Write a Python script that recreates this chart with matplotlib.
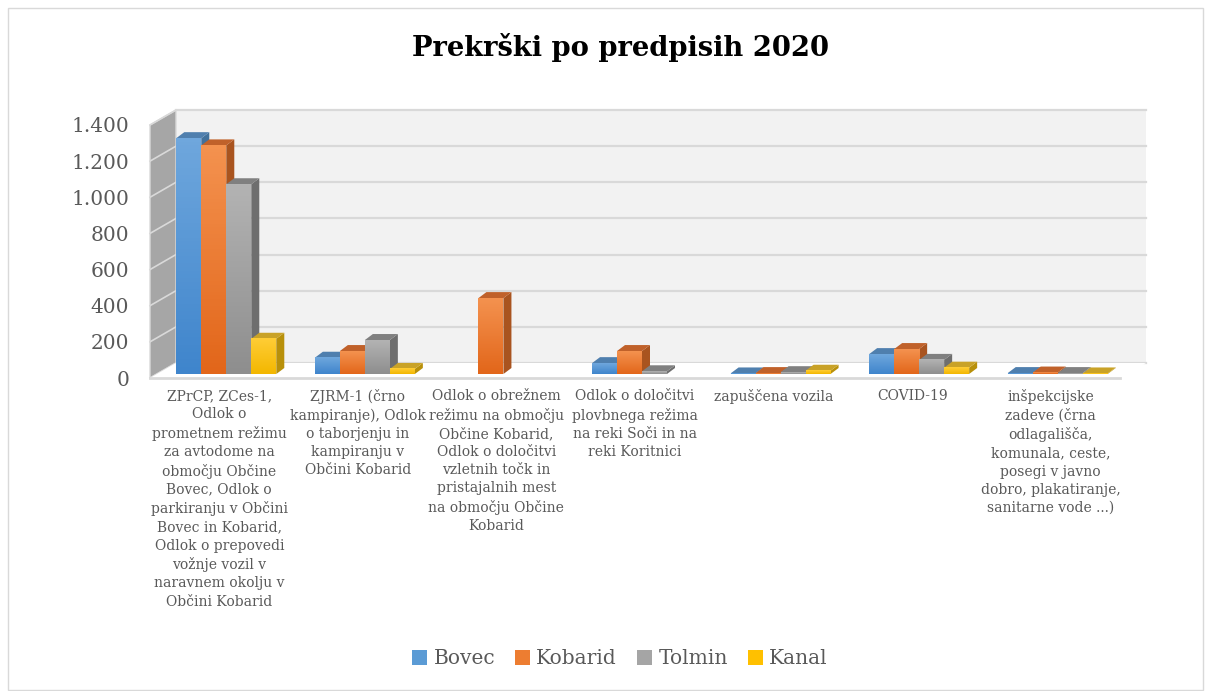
import matplotlib
matplotlib.use("Agg")
import matplotlib.pyplot as plt
import numpy as np
from matplotlib.patches import Polygon, Rectangle, Patch
from matplotlib.colors import LinearSegmentedColormap

categories = [
    "ZPrCP, ZCes-1,\nOdlok o\nprometnem režimu\nza avtodome na\nobmočju Občine\nBovec, Odlok o\nparkiranju v Občini\nBovec in Kobarid,\nOdlok o prepovedi\nvožnje vozil v\nnaravnem okolju v\nObčini Kobarid",
    "ZJRM-1 (črno\nkampiranje), Odlok\no taborjenju in\nkampiranju v\nObčini Kobarid",
    "Odlok o obrežnem\nrežimu na območju\nObčine Kobarid,\nOdlok o določitvi\nvzletnih točk in\npristajalnih mest\nna območju Občine\nKobarid",
    "Odlok o določitvi\nplovbnega režima\nna reki Soči in na\nreki Koritnici",
    "zapuščena vozila",
    "COVID-19",
    "inšpekcijske\nzadeve (črna\nodlagališča,\nkomunala, ceste,\nposegi v javno\ndobro, plakatiranje,\nsanitarne vode ...)",
]
series_names = ["Bovec", "Kobarid", "Tolmin", "Kanal"]
bovec = [1305, 90, 0, 60, 3, 110, 5]
kobarid = [1265, 127, 420, 127, 5, 138, 8]
tolmin = [1050, 188, 0, 15, 10, 78, 5]
kanal = [195, 28, 0, 0, 18, 35, 3]
values = [bovec, kobarid, tolmin, kanal]
yticks = [0, 200, 400, 600, 800, 1000, 1200, 1400]

front_top = ["#6fa7dd", "#f4924f", "#b3b3b3", "#ffcd36"]
front_bot = ["#3f85cc", "#e2661a", "#8e8e8e", "#f3b700"]
side_col = ["#41719c", "#a9541f", "#6e6e6e", "#b8900a"]
top_col = ["#4f7fae", "#c0612a", "#808080", "#c9a227"]

W, H = 1211, 691
fig = plt.figure(figsize=(W / 100, H / 100), dpi=100)
fig.patch.set_facecolor("white")
fig.add_artist(Rectangle((8 / W, 1 / H), 1195 / W, 682 / H, transform=fig.transFigure,
                         fill=False, edgecolor="#d9d9d9", lw=1.0))

ax = fig.add_axes([150 / W, 1 - 378 / H, 970 / W, 253 / H])
ax.set_xlim(-0.5, 6.5)
ax.set_ylim(0, 1400)
ax.set_autoscale_on(False)
for s in ax.spines.values():
    s.set_visible(False)
ax.patch.set_alpha(0)

ux = 7 / 970.0
uy = 1400 / 253.0
xmin, xmax = -0.5, 6.5

# back wall / side wall / floor
dxb, dyb = 26 * ux, 15 * uy
ax.add_patch(Rectangle((xmin + dxb, dyb), xmax - xmin, 1400, facecolor="#f2f2f2",
                       edgecolor="none", zorder=0, clip_on=False))
for t in yticks:
    ax.plot([xmin + dxb, xmax + dxb], [t + dyb, t + dyb], color="#d9d9d9", lw=1.6,
            zorder=0.5, clip_on=False)
ax.add_patch(Polygon([(xmin, 0), (xmin, 1400), (xmin + dxb, 1400 + dyb), (xmin + dxb, dyb)],
                     closed=True, facecolor="#a6a6a6", edgecolor="#d9d9d9", lw=1,
                     zorder=0.6, clip_on=False))
for t in yticks:
    ax.plot([xmin, xmin + dxb], [t, t + dyb], color="#d9d9d9", lw=1.2, zorder=0.7, clip_on=False)
ax.add_patch(Polygon([(xmin, 0), (xmax, 0), (xmax + dxb, dyb), (xmin + dxb, dyb)],
                     closed=True, facecolor="white", edgecolor="none", zorder=0.8, clip_on=False))
ax.plot([xmin, xmax], [0, 0], color="#d9d9d9", lw=2, zorder=0.9, clip_on=False)

# bars
bw = 25 * ux
bx, by = 7 * ux, 4 * uy
ddx, ddy = 8 * ux, 6 * uy
x = np.arange(len(categories))
grad = np.linspace(0, 1, 64).reshape(-1, 1)
for i in range(len(categories)):
    for k in range(4):
        v = values[k][i]
        if v <= 0:
            continue
        x0 = x[i] + (k - 2) * bw + bx
        x1 = x0 + bw
        y0 = by
        y1 = by + v
        z = 2 + i * 0.01 + k * 0.001
        ax.add_patch(Polygon([(x1, y0), (x1, y1), (x1 + ddx, y1 + ddy), (x1 + ddx, y0 + ddy)],
                             closed=True, facecolor=side_col[k], edgecolor="none", zorder=z, clip_on=False))
        ax.add_patch(Polygon([(x0, y1), (x1, y1), (x1 + ddx, y1 + ddy), (x0 + ddx, y1 + ddy)],
                             closed=True, facecolor=top_col[k], edgecolor="none", zorder=z, clip_on=False))
        bars = ax.bar([x0 + bw / 2], [v], width=bw, bottom=y0, color=front_bot[k],
                      zorder=z + 0.0002, clip_on=False)
        cmap = LinearSegmentedColormap.from_list("g", [front_bot[k], front_top[k]])
        im = ax.imshow(grad, cmap=cmap, extent=[x0, x1, y0, y1], origin="lower",
                       aspect="auto", zorder=z + 0.0003, clip_on=False)
        im.set_clip_path(bars.patches[0])

ax.set_xlim(-0.5, 6.5)
ax.set_ylim(0, 1400)

ax.set_yticks(yticks)
ax.set_yticklabels([f"{t:,}".replace(",", ".") for t in yticks], fontsize=14.5,
                   color="#595959", family="DejaVu Serif")
ax.set_xticks(x)
ax.set_xticklabels(categories, fontsize=10, color="#595959", family="DejaVu Serif",
                   linespacing=1.38, va="top", ha="center")
ax.tick_params(axis="y", length=0, pad=15)
ax.tick_params(axis="x", length=0, pad=8)

fig.text(621 / W, 1 - 48 / H, "Prekrški po predpisih 2020", ha="center", va="center",
         fontsize=19.7, fontweight="bold", family="DejaVu Serif", color="black")

handles = [Patch(facecolor=c, edgecolor="none") for c in ["#5b9bd5", "#ed7d31", "#a5a5a5", "#ffc000"]]
fig.legend(handles, series_names, loc="center", bbox_to_anchor=(620 / W, 1 - 659 / H), ncol=4,
           frameon=False, prop={"family": "DejaVu Serif", "size": 14.5}, labelcolor="#595959",
           handlelength=0.75, handleheight=0.75, handletextpad=0.3, columnspacing=1.0)

fig.savefig("out.png", dpi=100, facecolor="white")
